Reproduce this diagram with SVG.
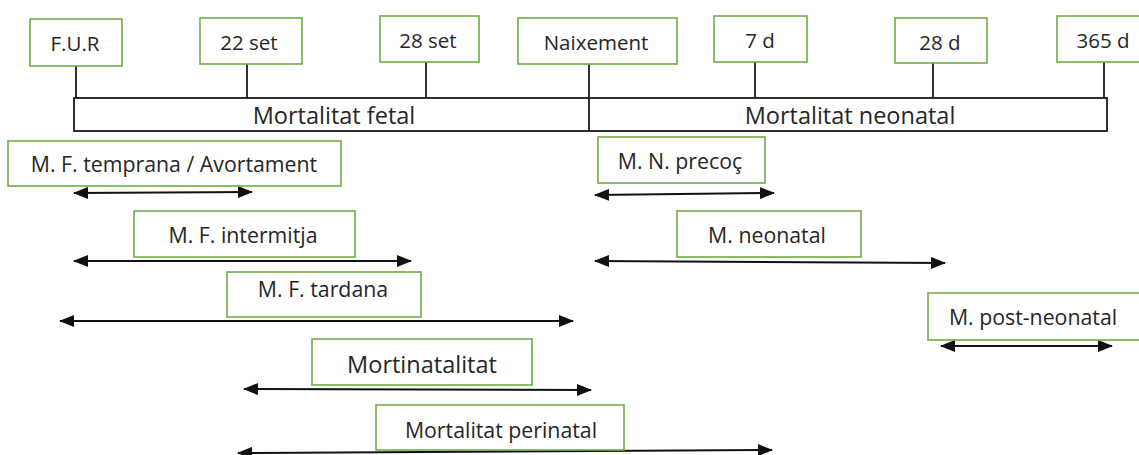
<svg xmlns="http://www.w3.org/2000/svg" width="1139" height="455" viewBox="0 0 1139 455">
<style>
.box{fill:#fff;stroke:#70AD47;stroke-width:1.6}
.t{font-family:"Open Sans","Liberation Sans",sans-serif;fill:#262626;text-anchor:middle}
.top{font-size:20.5px}
.mid{font-size:21.3px}
.big{font-size:23.5px}
.tick{stroke:#1a1a1a;stroke-width:1.8;fill:none}
.bar{fill:#fff;stroke:#1a1a1a;stroke-width:1.8}
.arr{stroke:#111;stroke-width:2;fill:none;marker-start:url(#ah);marker-end:url(#ah)}
</style>
<defs>
<marker id="ah" markerUnits="userSpaceOnUse" markerWidth="15" markerHeight="12" refX="14" refY="6" orient="auto-start-reverse">
<path d="M0,0 L15,6 L0,12 z" fill="#111"/>
</marker>
</defs>
<rect width="1139" height="455" fill="#fff"/>
<g id="timeline">
<rect class="bar" x="74" y="98" width="1033" height="33"/>
<line class="tick" x1="589" y1="98" x2="589" y2="131"/>
<text class="t big" x="334" y="124">Mortalitat fetal</text>
<text class="t big" x="850" y="124">Mortalitat neonatal</text>
</g>
<g id="connectors">
<line class="tick" x1="76" y1="66" x2="76" y2="98"/>
<line class="tick" x1="247" y1="64" x2="247" y2="98"/>
<line class="tick" x1="426" y1="62" x2="426" y2="98"/>
<line class="tick" x1="589" y1="64" x2="589" y2="98"/>
<line class="tick" x1="755" y1="62" x2="755" y2="98"/>
<line class="tick" x1="933" y1="63" x2="933" y2="98"/>
<line class="tick" x1="1104" y1="62" x2="1104" y2="98"/>
<line class="arr" x1="74" y1="193" x2="252" y2="192"/>
<line class="arr" x1="74" y1="261" x2="411" y2="261"/>
<line class="arr" x1="60" y1="321" x2="573" y2="321"/>
<line class="arr" x1="595" y1="195" x2="774" y2="193"/>
<line class="arr" x1="595" y1="261" x2="945" y2="263"/>
<line class="arr" x1="941" y1="346" x2="1112" y2="346"/>
<line class="arr" x1="244" y1="389" x2="591" y2="390"/>
<line class="arr" x1="238" y1="453" x2="772" y2="450"/>
</g>
<g id="n-fur"><rect class="box" x="30" y="19" width="92" height="47"/><text class="t top" x="75" y="51">F.U.R</text></g>
<g id="n-22set"><rect class="box" x="200" y="18" width="102" height="46"/><text class="t top" x="249" y="50">22 set</text></g>
<g id="n-28set"><rect class="box" x="380" y="16" width="99" height="46"/><text class="t top" x="428" y="48">28 set</text></g>
<g id="n-naixement"><rect class="box" x="518" y="18" width="159" height="46"/><text class="t top" x="596" y="50">Naixement</text></g>
<g id="n-7d"><rect class="box" x="714" y="16" width="93" height="46"/><text class="t top" x="760" y="48">7 d</text></g>
<g id="n-28d"><rect class="box" x="895" y="18" width="92" height="45"/><text class="t top" x="940" y="50">28 d</text></g>
<g id="n-365d"><rect class="box" x="1057" y="16" width="85" height="46"/><text class="t top" x="1103" y="48">365 d</text></g>
<g id="n-temprana"><rect class="box" x="8" y="141" width="333" height="45"/><text class="t mid" x="174" y="172">M. F. temprana / Avortament</text></g>
<g id="n-intermitja"><rect class="box" x="134" y="211" width="221" height="46"/><text class="t mid" x="243" y="243">M. F. intermitja</text></g>
<g id="n-tardana"><rect class="box" x="227" y="272" width="194" height="45"/><text class="t mid" x="323" y="297">M. F. tardana</text></g>
<g id="n-precoc"><rect class="box" x="598" y="137" width="167" height="46"/><text class="t mid" x="680" y="169">M. N. precoç</text></g>
<g id="n-neonatal"><rect class="box" x="677" y="211" width="184" height="46"/><text class="t mid" x="767" y="243">M. neonatal</text></g>
<g id="n-postneonatal"><rect class="box" x="928" y="293" width="214" height="47"/><text class="t mid" x="1033" y="325">M. post-neonatal</text></g>
<g id="n-mortinatalitat"><rect class="box" x="312" y="339" width="220" height="46"/><text class="t big" x="422" y="373">Mortinatalitat</text></g>
<g id="n-perinatal"><rect class="box" x="376" y="405" width="248" height="45"/><text class="t mid" x="501" y="438">Mortalitat perinatal</text></g>
</svg>
